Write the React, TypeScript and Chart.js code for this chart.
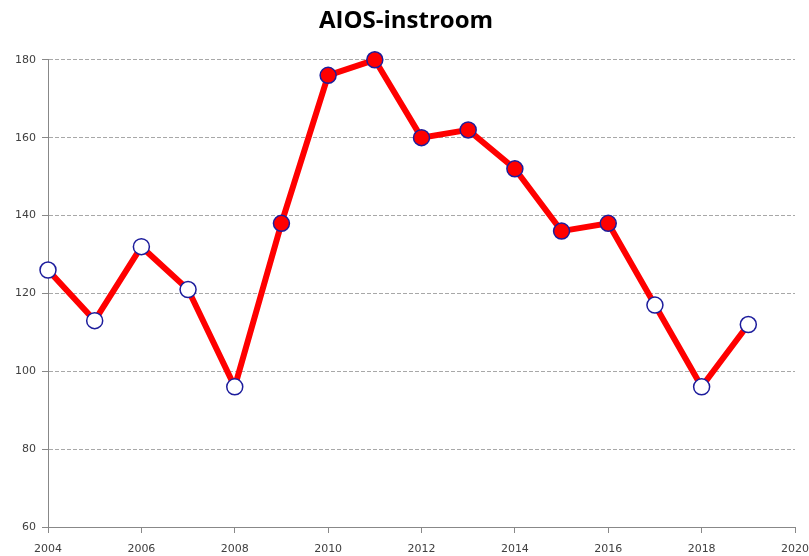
import React, { useEffect, useRef } from "react";
import { Chart, registerables } from "chart.js";

Chart.register(...registerables);

const years = [2004, 2005, 2006, 2007, 2008, 2009, 2010, 2011, 2012, 2013, 2014, 2015, 2016, 2017, 2018, 2019];
const instroom = [126, 113, 132, 121, 96, 138, 176, 180, 160, 162, 152, 136, 138, 117, 96, 112];
const redMarkerYears = [2009, 2010, 2011, 2012, 2013, 2014, 2015, 2016];
const title = "AIOS-instroom";

const shiftTitle = {
  id: "shiftTitle",
  afterLayout(chart: any) {
    const t = chart.titleBlock;
    if (t) {
      t.left += 17;
    }
  },
};

export default function App() {
  const ref = useRef<HTMLCanvasElement | null>(null);
  useEffect(() => {
    document.body.style.margin = "0";
    const ctx = ref.current!.getContext("2d")!;
    const chart = new Chart(ctx, {
      type: "line",
      data: {
        datasets: [
          {
            label: title,
            data: years.map((y, i) => ({ x: y, y: instroom[i] })),
            borderColor: "#ff0000",
            borderWidth: 6,
            pointRadius: 8,
            pointHoverRadius: 8,
            pointBorderWidth: 1.5,
            pointBorderColor: "#1c1c9c",
            pointBackgroundColor: years.map((y) => (redMarkerYears.includes(y) ? "#ff0000" : "#ffffff")),
            tension: 0,
            clip: false as any,
          },
        ],
      },
      plugins: [shiftTitle],
      options: {
        responsive: false,
        animation: false,
        layout: { padding: { left: 0, right: 14, top: 0, bottom: 0 } },
        plugins: {
          legend: { display: false },
          tooltip: { enabled: false },
          title: {
            display: true,
            text: title,
            color: "#000000",
            font: { family: "Open Sans", size: 24, weight: "bold" },
            padding: { top: 7, bottom: 24 },
          },
        },
        scales: {
          x: {
            type: "linear",
            min: 2004,
            max: 2020,
            ticks: {
              stepSize: 2,
              color: "#404040",
              font: { family: "DejaVu Sans", size: 11 },
              padding: 10,
              maxRotation: 0,
              callback: (v: any) => String(v),
            },
            grid: {
              drawOnChartArea: false,
              drawTicks: true,
              tickLength: 6,
              tickColor: "#888888",
            },
            border: { display: true, color: "#888888", width: 1 },
            afterFit: (s: any) => {
              s.height = 29;
              s.paddingLeft = 0;
              s.paddingRight = 0;
            },
          },
          y: {
            min: 60,
            max: 180,
            ticks: {
              stepSize: 20,
              color: "#404040",
              font: { family: "DejaVu Sans", size: 11 },
              padding: 6,
            },
            grid: {
              color: "#a8a8a8",
              tickLength: 6,
              tickColor: "#888888",
              tickBorderDash: [],
            },
            border: { display: true, color: "#888888", width: 1, dash: [4, 2] },
            afterFit: (s: any) => {
              s.width = 48;
            },
          },
        },
      },
    });
    return () => chart.destroy();
  }, []);
  return (
    <div style={{ position: "absolute", left: 0, top: 0, width: 809, height: 556, background: "#fff" }}>
      <canvas ref={ref} width={809} height={556} />
    </div>
  );
}
